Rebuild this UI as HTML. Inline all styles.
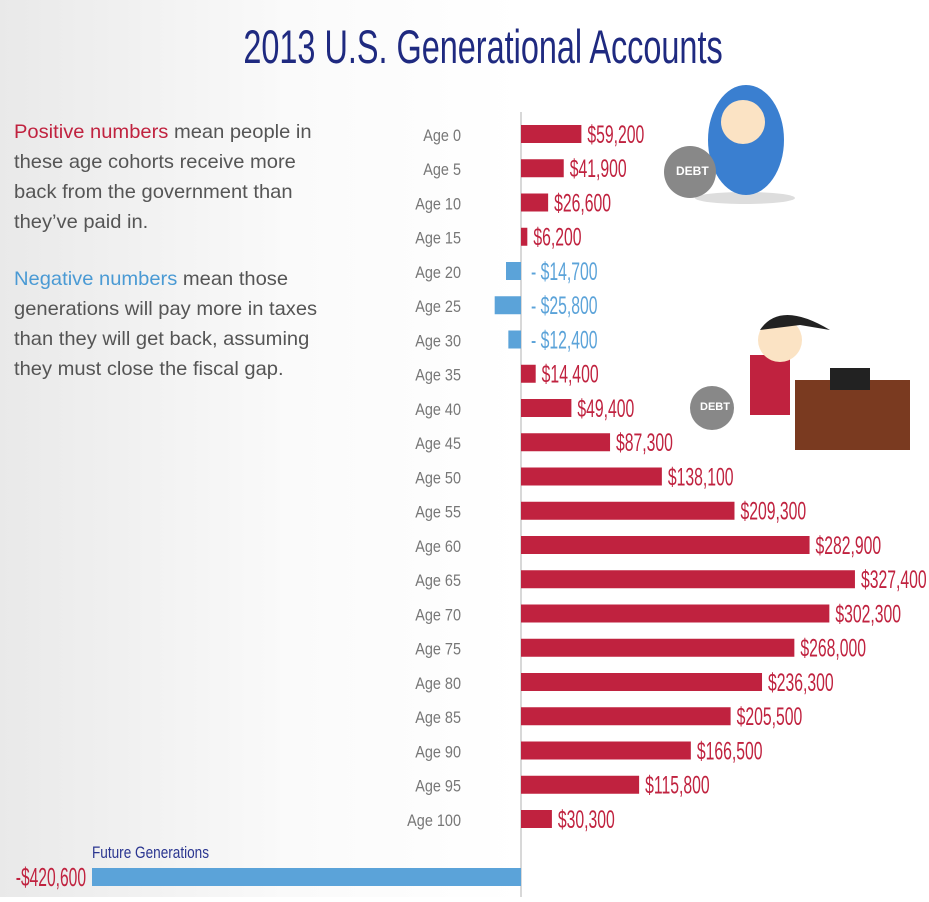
<!DOCTYPE html>
<html><head><meta charset="utf-8"><style>
body{margin:0;width:929px;height:897px;overflow:hidden;font-family:"Liberation Sans",sans-serif;}
</style></head><body>
<svg width="929" height="897" xmlns="http://www.w3.org/2000/svg">
<defs><linearGradient id="bg" x1="0" x2="1" y1="0" y2="0">
<stop offset="0" stop-color="#e9e9e9"/><stop offset="0.55" stop-color="#fafafa"/><stop offset="1" stop-color="#ffffff"/></linearGradient></defs>
<rect width="929" height="897" fill="#fff"/>
<rect width="521" height="897" fill="url(#bg)"/>
<line x1="521" y1="112" x2="521" y2="897" stroke="#ccc" stroke-width="1.5"/>
<text x="483" y="63" text-anchor="middle" font-size="47" fill="#1f2a80" transform="translate(483,0) scale(0.69,1) translate(-483,0)">2013 U.S. Generational Accounts</text>
<g font-size="19" fill="#555" transform="translate(14,0) scale(1.06,1) translate(-14,0)">
<text x="14" y="138"><tspan fill="#c0223f">Positive numbers</tspan>  mean people in</text>
<text x="14" y="168">these age cohorts receive more</text>
<text x="14" y="198">back from the government than</text>
<text x="14" y="228">they’ve paid in.</text>
<text x="14" y="285"><tspan fill="#4a9ad4">Negative numbers</tspan> mean those</text>
<text x="14" y="315">generations will pay more in taxes</text>
<text x="14" y="345">than they will get back, assuming</text>
<text x="14" y="375">they must close the fiscal gap.</text>
</g>
<g id="rows"></g>
<text x="92" y="858" font-size="17" fill="#2a3590" transform="translate(92,0) scale(0.8,1) translate(-92,0)">Future Generations</text>
<rect x="92" y="868" width="429" height="18" fill="#5ba3d9"/>
<text x="86" y="886" text-anchor="end" font-size="26" fill="#c0223f" transform="translate(86,0) scale(0.6,1) translate(-86,0)">-$420,600</text>
<g>
<ellipse cx="745" cy="198" rx="50" ry="6" fill="#ddd"/>
<ellipse cx="746" cy="140" rx="38" ry="55" fill="#3a7fd0"/>
<circle cx="743" cy="122" r="22" fill="#fbe3c4"/>
<circle cx="690" cy="172" r="26" fill="#888"/>
<text x="676" y="175" font-size="12" fill="#fff" font-weight="bold">DEBT</text>
</g>
<g>
<rect x="795" y="380" width="115" height="70" fill="#7a3a20"/>
<rect x="750" y="355" width="40" height="60" fill="#c0223f"/>
<circle cx="780" cy="340" r="22" fill="#fbe3c4"/>
<path d="M760 330 Q780 300 830 330 L800 325 Z" fill="#222"/>
<rect x="830" y="368" width="40" height="22" fill="#222"/>
<circle cx="712" cy="408" r="22" fill="#888"/>
<text x="700" y="410" font-size="11" fill="#fff" font-weight="bold">DEBT</text>
</g>
</svg>
<script>
const vals=[59200,41900,26600,6200,-14700,-25800,-12400,14400,49400,87300,138100,209300,282900,327400,302300,268000,236300,205500,166500,115800,30300];
const g=document.getElementById('rows');let h='';
vals.forEach((v,i)=>{const y=134+i*34.25;const w=Math.abs(v)*0.00102;
const neg=v<0;const x=neg?521-w:521;const c=neg?'#5ba3d9':'#c0223f';
h+=`<text x="461" y="${y+7}" text-anchor="end" font-size="17" fill="#777" transform="translate(461,0) scale(0.85,1) translate(-461,0)">Age ${i*5}</text>`;
h+=`<rect x="${x}" y="${y-9}" width="${w}" height="18" fill="${c}"/>`;
const lx=neg?531:521+w+6;const lbl=(neg?'- $':'$')+Math.abs(v).toLocaleString('en-US');
h+=`<text x="${lx}" y="${y+9}" font-size="25" fill="${c}" transform="translate(${lx},0) scale(0.63,1) translate(${-lx},0)">${lbl}</text>`;});
g.innerHTML=h;
</script>
</body></html>
